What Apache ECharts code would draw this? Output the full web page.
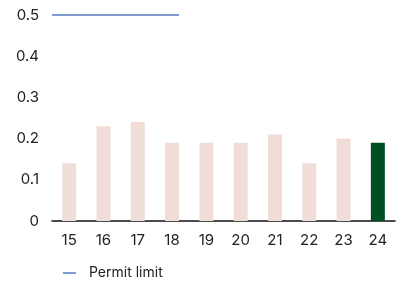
<!DOCTYPE html>
<html>
<head>
<meta charset="utf-8">
<script src="https://cdn.jsdelivr.net/npm/echarts@6/dist/echarts.min.js"></script>
<style>
  html, body { margin: 0; padding: 0; background: #fff; }
  #chart { width: 401px; height: 281px; }
</style>
</head>
<body>
<div id="chart"></div>
<script>
  // years (two-digit) and measured values
  var years = ['15', '16', '17', '18', '19', '20', '21', '22', '23', '24'];
  var values = [0.14, 0.23, 0.24, 0.19, 0.19, 0.19, 0.21, 0.14, 0.20, 0.19];
  // permit limit line, x in category units along a hidden value axis
  var limitX = [0, 3.7];
  var limitY = [0.5, 0.5];
  var yTicks = [0, 0.1, 0.2, 0.3, 0.4, 0.5];

  var barColor = '#f0ddd7';
  var lastColor = '#004f20';
  var limitColor = '#7f9bd0';

  var chart = echarts.init(document.getElementById('chart'));

  chart.setOption({
    animation: false,
    textStyle: { fontFamily: 'Inter' },
    grid: { left: 52, right: 6, top: 15, bottom: 60, containLabel: false },
    legend: {
      left: 58,
      top: 261,
      itemWidth: 13,
      itemHeight: 2,
      icon: 'rect',
      textStyle: { fontSize: 14, color: '#222', fontFamily: 'Inter', padding: [0, 0, 0, 8] },
      data: ['Permit limit']
    },
    xAxis: [
      {
        type: 'category',
        data: years,
        axisLine: { lineStyle: { color: '#111', width: 1.5 } },
        axisTick: { show: false },
        axisLabel: { color: '#222', fontSize: 15, margin: 12 }
      },
      {
        type: 'value',
        min: 0,
        max: years.length,
        show: false
      }
    ],
    yAxis: {
      type: 'value',
      min: 0,
      max: 0.5,
      interval: 0.1,
      splitLine: { show: false },
      axisLine: { show: false },
      axisTick: { show: false },
      axisLabel: {
        color: '#222',
        fontSize: 15,
        margin: 13,
        padding: [5, 0, 0, 0],
        formatter: function (v) {
          var t = yTicks.find(function (k) { return Math.abs(k - v) < 1e-9; });
          return t === 0 ? '0' : String(+t.toFixed(1));
        }
      }
    },
    series: [
      {
        type: 'bar',
        xAxisIndex: 0,
        barWidth: 14,
        data: values.map(function (v, i) {
          return {
            value: v,
            itemStyle: { color: i === values.length - 1 ? lastColor : barColor }
          };
        })
      },
      {
        name: 'Permit limit',
        type: 'line',
        xAxisIndex: 1,
        symbol: 'none',
        lineStyle: { color: limitColor, width: 2 },
        itemStyle: { color: limitColor },
        data: limitX.map(function (x, i) { return [x, limitY[i]]; })
      }
    ]
  });
</script>
</body>
</html>
